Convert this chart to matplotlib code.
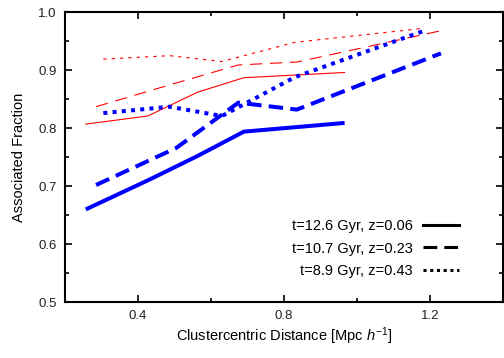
import matplotlib as mpl
mpl.use("Agg")
import matplotlib.pyplot as plt
from matplotlib.lines import Line2D
from matplotlib.ticker import MultipleLocator

# x bins (Mpc/h) for each epoch
r_z006 = [0.257, 0.427, 0.563, 0.690, 0.966]
r_z023 = [0.285, 0.505, 0.675, 0.835, 1.230]
r_z043 = [0.305, 0.486, 0.630, 0.830, 1.180]

# thick blue curves
blue_z006 = [0.660, 0.710, 0.752, 0.794, 0.809]
blue_z023 = [0.702, 0.766, 0.844, 0.832, 0.929]
blue_z043 = [0.826, 0.837, 0.821, 0.888, 0.967]

# thin red curves
red_z006 = [0.807, 0.821, 0.862, 0.887, 0.896]
red_z023 = [0.837, 0.878, 0.909, 0.914, 0.968]
red_z043 = [0.919, 0.925, 0.915, 0.948, 0.972]

labels = ["t=12.6 Gyr, z=0.06", "t=10.7 Gyr, z=0.23", "t=8.9 Gyr, z=0.43"]

BLUE = "#0000FF"
RED = "#FF0000"

mpl.rcParams.update({
    "font.family": "sans-serif",
    "font.sans-serif": ["Liberation Sans", "DejaVu Sans"],
    "font.size": 10.5,
    "mathtext.fontset": "custom",
    "mathtext.rm": "Liberation Sans",
    "mathtext.it": "Liberation Sans:italic",
})

fig = plt.figure(figsize=(5.04, 3.58), dpi=100)
ax = fig.add_axes([0.129, 0.156, 0.869, 0.810])

solid = "-"
dashed_b = (0, (3.6, 1.8))
dotted_b = (0, (1.0, 1.3))
dashed_r = (0, (11, 7))
dotted_r = (0, (3, 4.5))

ax.plot(r_z006, red_z006, color=RED, lw=0.8, ls=solid)
ax.plot(r_z023, red_z023, color=RED, lw=0.8, ls=dashed_r)
ax.plot(r_z043, red_z043, color=RED, lw=0.8, ls=dotted_r)

ax.plot(r_z006, blue_z006, color=BLUE, lw=2.9, ls=solid, solid_capstyle="butt")
ax.plot(r_z023, blue_z023, color=BLUE, lw=2.9, ls=dashed_b, dash_capstyle="butt")
ax.plot(r_z043, blue_z043, color=BLUE, lw=2.9, ls=dotted_b, dash_capstyle="butt")

ax.set_xlim(0.2, 1.4)
ax.set_ylim(0.5, 1.0)
ax.xaxis.set_major_locator(MultipleLocator(0.4))
ax.xaxis.set_minor_locator(MultipleLocator(0.2))
ax.yaxis.set_major_locator(MultipleLocator(0.1))
ax.yaxis.set_minor_locator(MultipleLocator(0.05))
ax.xaxis.set_major_formatter(mpl.ticker.FormatStrFormatter("%.1f"))
ax.yaxis.set_major_formatter(mpl.ticker.FormatStrFormatter("%.1f"))

for s in ax.spines.values():
    s.set_linewidth(1.5)
ax.tick_params(which="both", direction="in", top=True, right=True,
               width=1.2, color="black", labelcolor="#222222", labelsize=9.5)
ax.tick_params(which="major", length=5, pad=6)
ax.tick_params(which="minor", length=3)

ax.set_xlabel("Clustercentric Distance [Mpc $h^{-1}$]", labelpad=2)
ax.set_ylabel("Associated Fraction", labelpad=9)

handles = [
    Line2D([], [], color="black", lw=2.2, ls="-"),
    Line2D([], [], color="black", lw=2.2, ls=(0, (4.5, 2.3))),
    Line2D([], [], color="black", lw=2.2, ls=(0, (1.0, 1.2))),
]
ax.legend(handles, labels, loc="center right", bbox_to_anchor=(0.9, 0.185),
          frameon=False, markerfirst=False, borderpad=0, borderaxespad=0,
          handlelength=2.5, handletextpad=0.7, labelspacing=0.6, fontsize=10.5)

fig.savefig("out.png", dpi=100)
